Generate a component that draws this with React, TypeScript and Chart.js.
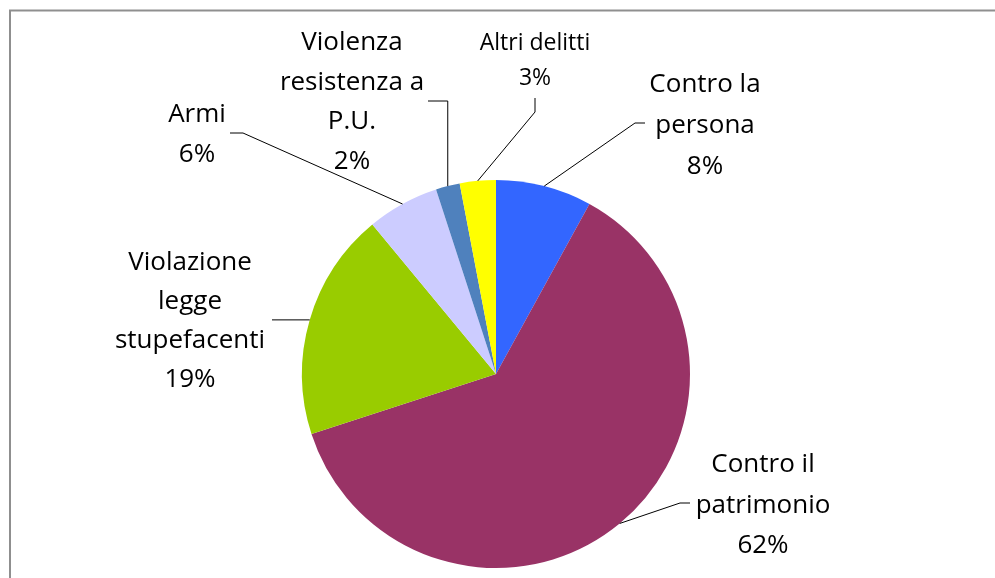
import React, { useEffect, useRef } from "react";
import { Chart, registerables } from "chart.js";

Chart.register(...registerables);

const categories = [
  "Contro la persona",
  "Contro il patrimonio",
  "Violazione legge stupefacenti",
  "Armi",
  "Violenza resistenza a P.U.",
  "Altri delitti",
];
const values = [8, 62, 19, 6, 2, 3];
const percentLabels = ["8%", "62%", "19%", "6%", "2%", "3%"];
const labelLines = [
  ["Contro la", "persona"],
  ["Contro il", "patrimonio"],
  ["Violazione", "legge", "stupefacenti"],
  ["Armi"],
  ["Violenza", "resistenza a", "P.U."],
  ["Altri delitti"],
];
const colors = ["#3366FF", "#993366", "#99CC00", "#CCCCFF", "#4F81BD", "#FFFF00"];

// layout of the labels (positions only)
type Layout = {
  cx: number;
  y0: number;
  lh: number;
  size: number;
  elbows: Array<[number | null, number | null]>;
};
const labelLayout: Layout[] = [
  { cx: 705, y0: 85, lh: 41, size: 26, elbows: [[645, 123], [635, 123]] },
  { cx: 763, y0: 465, lh: 40.5, size: 26, elbows: [[690, 503], [680, 503]] },
  { cx: 190, y0: 263, lh: 39, size: 26, elbows: [[272, null]] },
  { cx: 197, y0: 115, lh: 40, size: 26, elbows: [[230, 133], [243, 133]] },
  { cx: 352, y0: 43, lh: 39.5, size: 26, elbows: [[428, 101], [null, 101]] },
  { cx: 535, y0: 43, lh: 35, size: 23, elbows: [[535, 98], [535, 112]] },
];

const FONT = "'Open Sans', Lato, sans-serif";

const overlayPlugin = {
  id: "overlay",
  beforeDraw(chart: any) {
    const ctx = chart.ctx;
    ctx.save();
    ctx.fillStyle = "#ffffff";
    ctx.fillRect(0, 0, chart.width, chart.height);
    ctx.strokeStyle = "#8f8f8f";
    ctx.lineWidth = 2;
    ctx.beginPath();
    ctx.moveTo(10, chart.height + 2);
    ctx.lineTo(10, 10.5);
    ctx.lineTo(chart.width + 2, 10.5);
    ctx.stroke();
    ctx.restore();
  },
  afterDatasetsDraw(chart: any) {
    const ctx = chart.ctx;
    const meta = chart.getDatasetMeta(0);
    ctx.save();
    meta.data.forEach((arc: any, i: number) => {
      const p = arc.getProps(["x", "y", "startAngle", "endAngle", "outerRadius"], true);
      const mid = (p.startAngle + p.endAngle) / 2;
      const ex = p.x + Math.cos(mid) * p.outerRadius;
      const ey = p.y + Math.sin(mid) * p.outerRadius;
      const lay = labelLayout[i];
      // leader line
      ctx.strokeStyle = "#000";
      ctx.lineWidth = 1;
      ctx.beginPath();
      lay.elbows.forEach((e, k) => {
        const x = e[0] === null ? ex : e[0];
        const y = e[1] === null ? ey : e[1];
        if (k === 0) ctx.moveTo(x, y);
        else ctx.lineTo(x, y);
      });
      ctx.lineTo(ex, ey);
      ctx.stroke();
      // text
      ctx.fillStyle = "#000";
      ctx.font = `${lay.size}px ${FONT}`;
      ctx.textAlign = "center";
      ctx.textBaseline = "middle";
      const lines = [...labelLines[i], percentLabels[i]];
      lines.forEach((t, k) => {
        ctx.fillText(t, lay.cx, lay.y0 + k * lay.lh);
      });
    });
    ctx.restore();
  },
};

export default function App() {
  const ref = useRef<HTMLCanvasElement>(null);
  useEffect(() => {
    if (!ref.current) return;
    const chart = new Chart(ref.current, {
      type: "pie",
      data: {
        labels: categories,
        datasets: [
          {
            data: values,
            backgroundColor: colors,
            borderWidth: 0,
          },
        ],
      },
      options: {
        responsive: false,
        animation: false,
        devicePixelRatio: 1,
        layout: { padding: { top: 180, bottom: 10, left: 302, right: 305 } },
        plugins: {
          legend: { display: false },
          tooltip: { enabled: false },
          title: { display: false },
        },
      },
      plugins: [overlayPlugin],
    });
    return () => chart.destroy();
  }, []);
  return (
    <div style={{ position: "absolute", left: 0, top: 0, width: 995, height: 578, background: "#fff" }}>
      <canvas ref={ref} width={995} height={578} style={{ display: "block" }} />
    </div>
  );
}
